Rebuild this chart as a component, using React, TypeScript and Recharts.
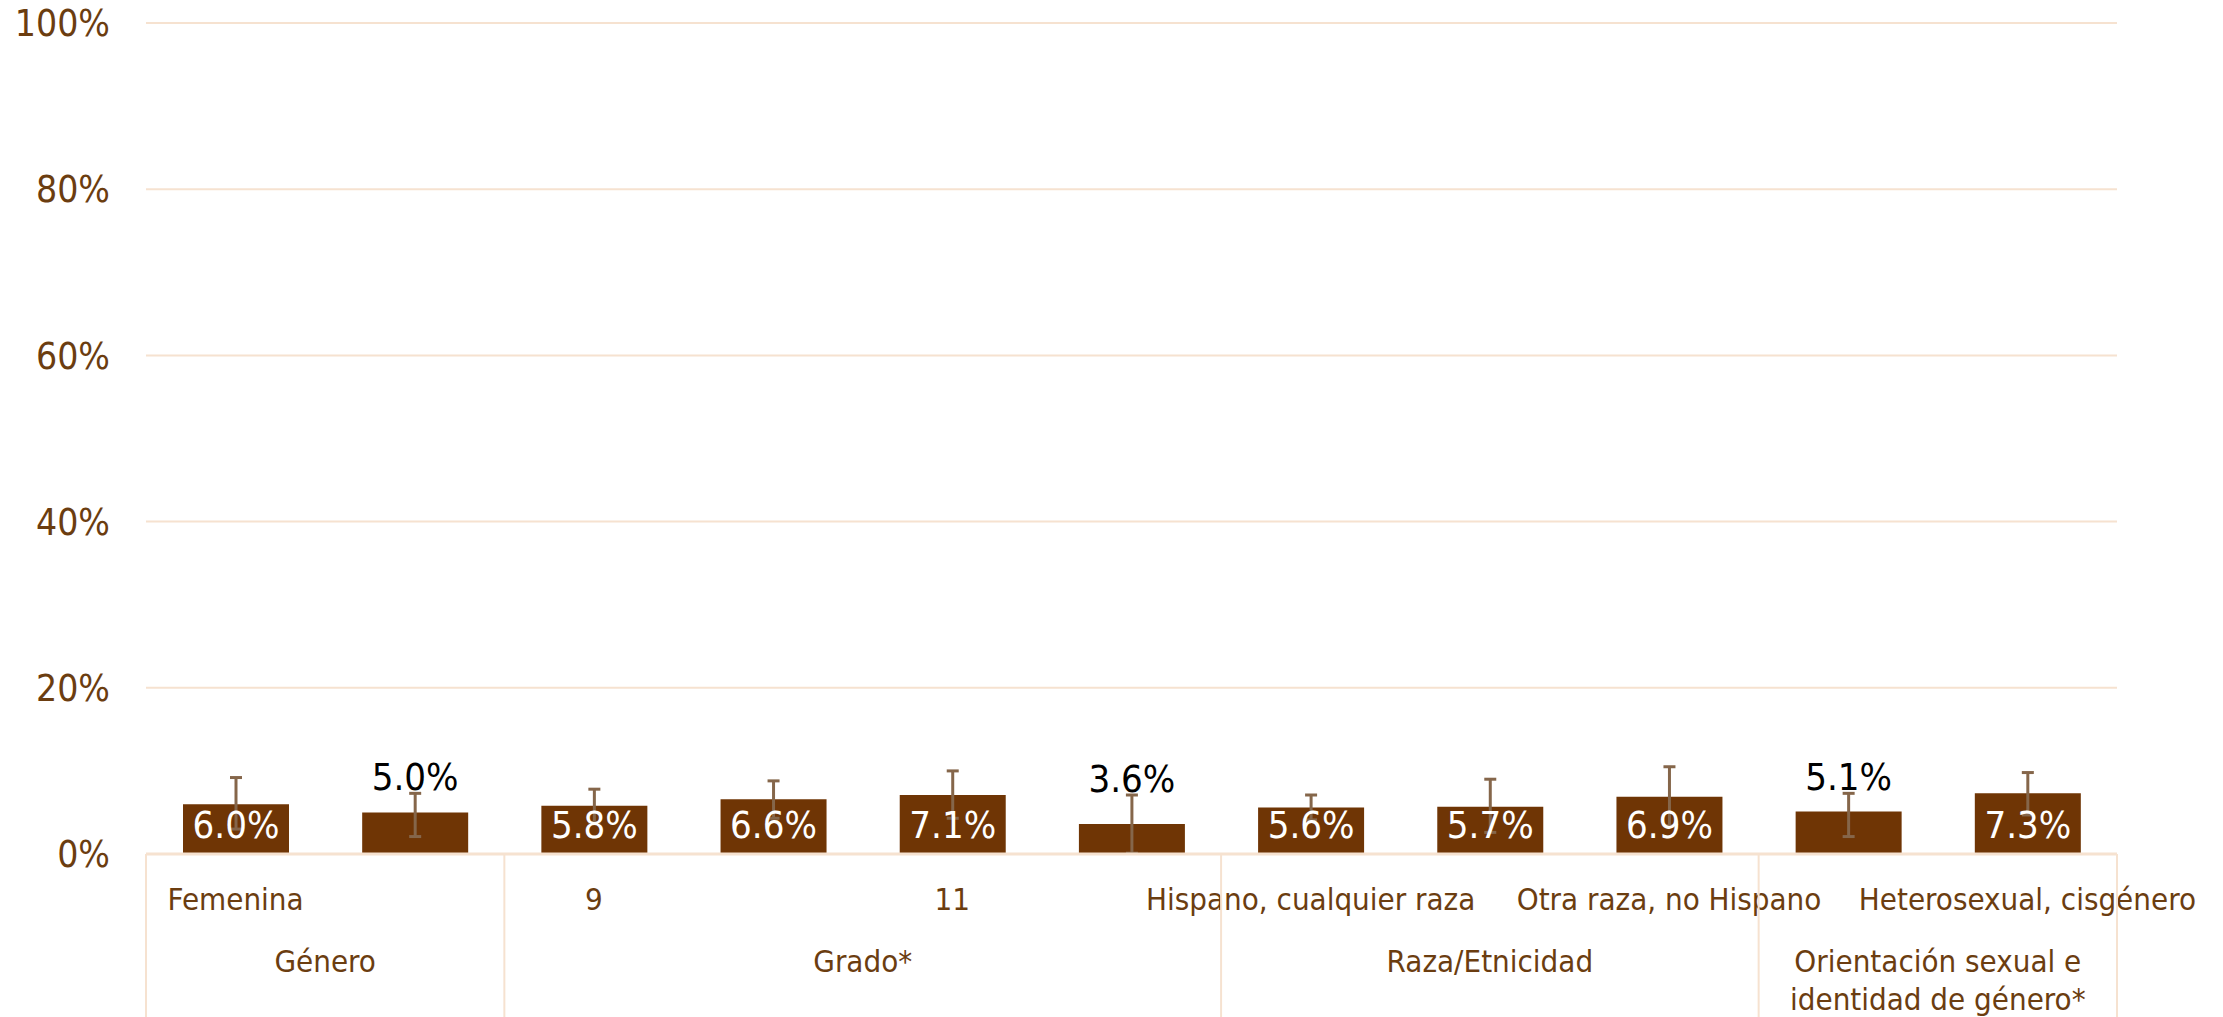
import React from "react";
import {
  BarChart,
  Bar,
  XAxis,
  YAxis,
  CartesianGrid,
  ErrorBar,
  LabelList,
} from "recharts";

const categories = [
  "Femenina",
  "Masculino",
  "9",
  "10",
  "11",
  "12",
  "Hispano, cualquier raza",
  "Blanco, no Hispano",
  "Otra raza, no Hispano",
  "LGBTQ+",
  "Heterosexual, cisgénero",
];
const values = [6.0, 5.0, 5.8, 6.6, 7.1, 3.6, 5.6, 5.7, 6.9, 5.1, 7.3];
const lowerCI = [3.0, 2.1, 3.8, 4.3, 4.3, 0.1, 4.1, 2.6, 3.4, 2.1, 4.7];
const upperCI = [9.2, 7.3, 7.8, 8.8, 10.0, 7.1, 7.1, 9.0, 10.5, 7.3, 9.8];
// labels Excel pushed outside (black, above the error bar)
const outsideLabels = [1, 5, 9];

const groupNames = ["Género", "Grado*", "Raza/Etnicidad", "Orientación sexual e\nidentidad de género*"];
const groupSizes = [2, 4, 3, 2];

const yTicks = [0, 20, 40, 60, 80, 100];

const data = categories.map((name, i) => ({
  name,
  value: values[i],
  err: [values[i] - lowerCI[i], upperCI[i] - values[i]],
}));

const BROWN = "#6f3505";
const TEXT = "#6b3d10";
const GRID = "#f6e2d0";
const FONT = "'DejaVu Sans Condensed', 'Liberation Sans', sans-serif";

const groupStarts = groupSizes.map((_, g) => groupSizes.slice(0, g).reduce((a, b) => a + b, 0));

function CategoryTick(props: any) {
  const { x, y, payload, index } = props;
  const band = (payload?.offset ?? 89.6) * 2;
  const g = groupStarts.indexOf(index);
  const parts: React.ReactNode[] = [];

  if (index % 2 === 0) {
    parts.push(
      <text key="c" x={x} y={y + 56} textAnchor="middle" fill={TEXT} fontSize={31} fontFamily={FONT}>
        {payload.value}
      </text>
    );
  }
  if (g >= 0) {
    const left = x - band / 2;
    const span = groupSizes[g] * band;
    const lines = groupNames[g].split("\n");
    parts.push(
      <line key="s" x1={left} y1={y} x2={left} y2={y + 170} stroke={GRID} strokeWidth={2} />
    );
    parts.push(
      <text key="g" x={left + span / 2} y={y + 118} textAnchor="middle" fill={TEXT} fontSize={31} fontFamily={FONT}>
        {lines.map((l, k) => (
          <tspan key={k} x={left + span / 2} dy={k === 0 ? 0 : 38}>
            {l}
          </tspan>
        ))}
      </text>
    );
  }
  if (index === categories.length - 1) {
    const right = x + band / 2;
    parts.push(
      <line key="e" x1={right} y1={y} x2={right} y2={y + 170} stroke={GRID} strokeWidth={2} />
    );
  }
  return <g>{parts}</g>;
}

function ValueLabel(props: any) {
  const { x, y, width, height, value, index } = props;
  const cx = x + width / 2;
  const text = `${Number(value).toFixed(1)}%`;
  if (outsideLabels.includes(index)) {
    const perUnit = height / value;
    const yUp = y + height - upperCI[index] * perUnit;
    return (
      <text x={cx} y={yUp - 3} textAnchor="middle" fill="#000" fontSize={38} fontFamily={FONT}>
        {text}
      </text>
    );
  }
  return (
    <text x={cx} y={y + height - 16} textAnchor="middle" fill="#fff" fontSize={38} fontFamily={FONT}>
      {text}
    </text>
  );
}

export default function App() {
  return (
    <div style={{ position: "absolute", left: 0, top: 0, width: 2223, height: 1017, background: "#fff" }}>
      <BarChart
        width={2223}
        height={1017}
        data={data}
        margin={{ top: 23, right: 106, left: 0, bottom: 0 }}
        barSize={106}
      >
        <CartesianGrid vertical={false} stroke={GRID} strokeWidth={2} />
        <XAxis
          dataKey="name"
          interval={0}
          height={163}
          tickLine={false}
          tickSize={0}
          tickMargin={0}
          axisLine={{ stroke: GRID, strokeWidth: 3 }}
          tick={<CategoryTick />}
        />
        <YAxis
          width={146}
          domain={[0, 100]}
          ticks={yTicks}
          tickFormatter={(v: number) => `${v}%`}
          axisLine={false}
          tickLine={false}
          tickSize={0}
          tickMargin={36}
          tick={{ fill: TEXT, fontSize: 37, fontFamily: FONT }}
        />
        <Bar dataKey="value" fill={BROWN} isAnimationActive={false}>
          <ErrorBar dataKey="err" width={6} strokeWidth={3} stroke="#85664a" direction="y" />
          <LabelList dataKey="value" content={<ValueLabel />} />
        </Bar>
      </BarChart>
    </div>
  );
}
